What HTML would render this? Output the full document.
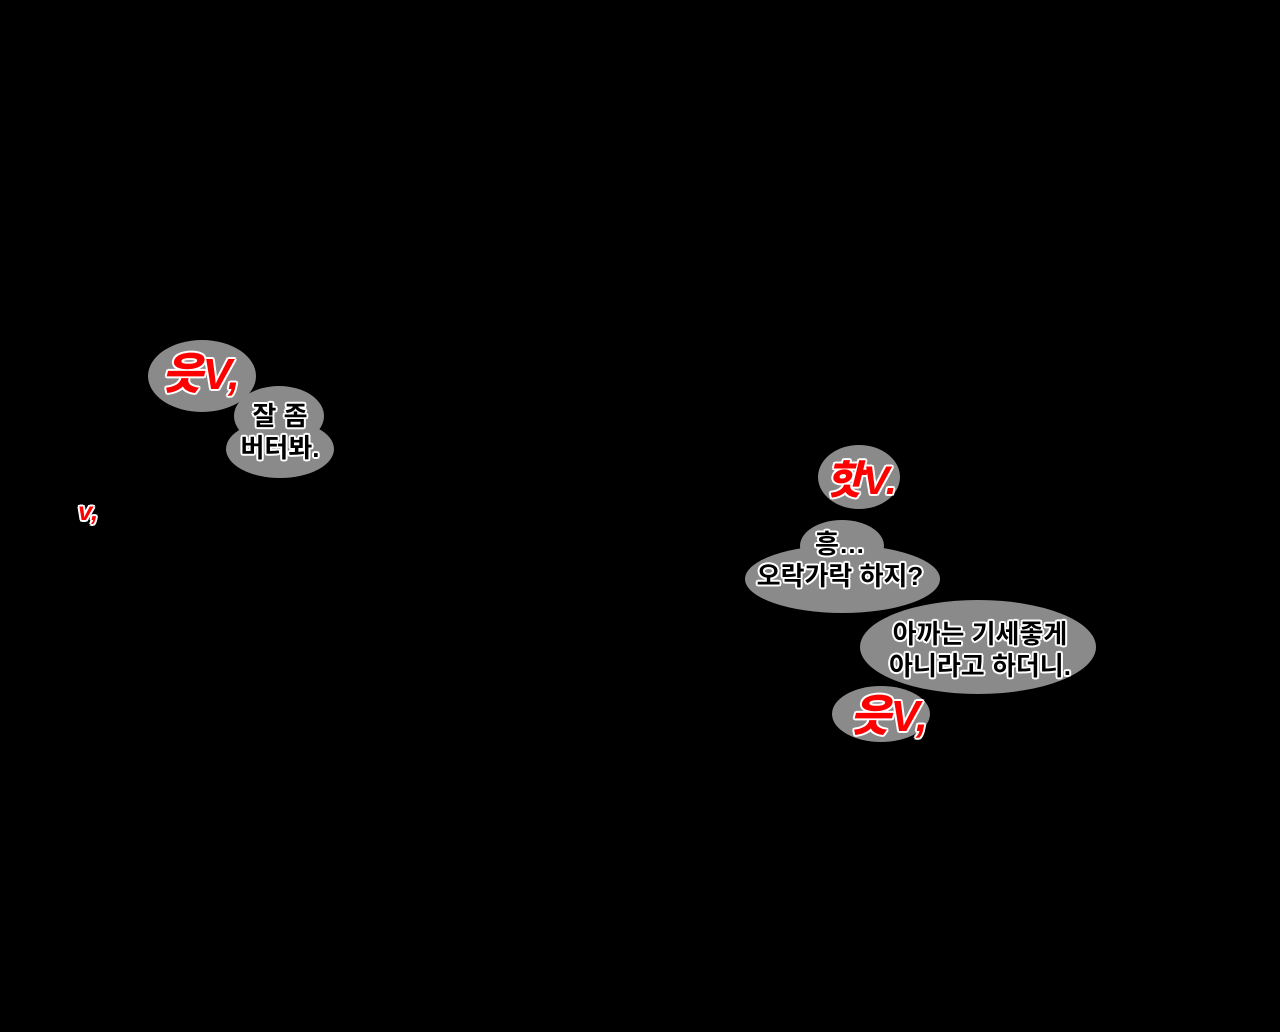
<!DOCTYPE html>
<html><head><meta charset="utf-8"><style>
body{margin:0;width:1280px;height:1032px;background:#000;position:relative;overflow:hidden}
.b{position:absolute;background:#8a8a8a;border-radius:50%}
.t{position:absolute;font-family:"Liberation Sans","Noto Sans CJK KR","NanumGothic",sans-serif;font-weight:700;font-size:26px;color:#000;line-height:32px;text-align:center;white-space:nowrap;
text-shadow:2px 0 #fff,-2px 0 #fff,0 2px #fff,0 -2px #fff,1.5px 1.5px #fff,-1.5px 1.5px #fff,1.5px -1.5px #fff,-1.5px -1.5px #fff}
.r{position:absolute;font-family:"Liberation Sans","Noto Sans CJK KR",sans-serif;font-weight:900;font-style:italic;color:#f00;white-space:nowrap;
text-shadow:2px 0 #fff,-2px 0 #fff,0 2px #fff,0 -2px #fff,1.5px 1.5px #fff,-1.5px 1.5px #fff,1.5px -1.5px #fff,-1.5px -1.5px #fff}
</style></head><body>
<div class="b" style="left:148px;top:340px;width:108px;height:72px"></div>
<div class="b" style="left:234px;top:386px;width:90px;height:60px"></div>
<div class="b" style="left:226px;top:420px;width:108px;height:58px"></div>
<div class="r" style="left:162px;top:338px;font-size:44px">읏V,</div>
<div class="t" style="left:230px;top:400px;width:100px">잘 좀<br>버터봐.</div>
<div class="r" style="left:78px;top:496px;font-size:26px">v,</div>

<div class="b" style="left:818px;top:445px;width:82px;height:64px"></div>
<div class="r" style="left:826px;top:448px;font-size:40px">핫V.</div>
<div class="b" style="left:800px;top:520px;width:84px;height:52px"></div>
<div class="b" style="left:745px;top:545px;width:195px;height:68px"></div>
<div class="t" style="left:745px;top:528px;width:190px">흥…<br>오락가락 하지?</div>
<div class="b" style="left:860px;top:600px;width:236px;height:94px"></div>
<div class="t" style="left:862px;top:618px;width:236px">아까는 기세좋게<br>아니라고 하더니.</div>
<div class="b" style="left:832px;top:686px;width:98px;height:56px"></div>
<div class="r" style="left:850px;top:680px;font-size:44px">읏V,</div>
</body></html>
